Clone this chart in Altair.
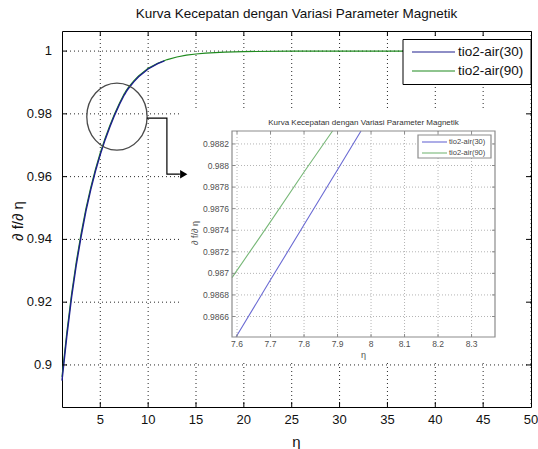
import altair as alt
import pandas as pd

FONT = "Liberation Sans"

# ---------------------------------------------------------------- data
SERIES = ["tio2-air(30)", "tio2-air(90)"]
LINE_COLORS = ["#1e1e8e", "#1f8a1f"]
ZOOM_COLORS = ["#6b6bd3", "#78b878"]

ETA30 = [1, 1.5, 2, 2.5, 3, 3.5, 4, 4.5, 5, 5.5, 6, 6.5, 7, 7.5, 7.6, 7.7, 7.8,
         7.9, 8, 8.5, 9, 10, 11, 11.7]
F30 = [0.8950, 0.9090, 0.9215, 0.9320, 0.9410, 0.9490, 0.9558, 0.9618, 0.9670,
       0.9717, 0.9758, 0.9796, 0.9830, 0.9860, 0.98648, 0.98697, 0.98745,
       0.98792, 0.98830, 0.99020, 0.99180, 0.99430, 0.99600, 0.99690]

ETA90 = [1, 1.5, 2, 2.5, 3, 3.5, 4, 4.5, 5, 5.5, 6, 6.5, 7, 7.5, 7.6, 7.7, 7.8,
         7.9, 8, 8.5, 9, 10, 11, 12, 13, 14, 15, 16, 18, 20, 25, 30, 40, 50]
F90 = [0.8962, 0.9102, 0.9226, 0.9330, 0.9419, 0.9498, 0.9565, 0.9624, 0.9676,
       0.9722, 0.9763, 0.9800, 0.9834, 0.98640, 0.98690, 0.98738, 0.98785,
       0.98830, 0.98868, 0.99050, 0.99205, 0.99450, 0.99614, 0.99730, 0.99812,
       0.99869, 0.99908, 0.99936, 0.99970, 0.99985, 0.99997, 1.0, 1.0, 1.0]

X_DOMAIN = [1, 50]
Y_DOMAIN = [0.8866, 1.0064]
X_TICKS = [5, 10, 15, 20, 25, 30, 35, 40, 45, 50]
Y_TICKS = [0.9, 0.92, 0.94, 0.96, 0.98, 1.0]

# zoomed window around eta ~ 7.6 .. 8.4
ZX_DOMAIN = [7.585, 8.37]
ZY_DOMAIN = [0.98641, 0.98832]
ZX_TICKS = [7.6, 7.7, 7.8, 7.9, 8.0, 8.1, 8.2, 8.3]
ZY_TICKS = [0.9866, 0.9868, 0.987, 0.9872, 0.9874, 0.9876, 0.9878, 0.988, 0.9882]
Z_ETA30 = [7.597, 7.7, 7.8, 7.9, 7.97]
Z_F30 = [0.98641, 0.98694, 0.98745, 0.98796, 0.98832]
Z_ETA90 = [7.585, 7.7, 7.8, 7.885]
Z_F90 = [0.98696, 0.98748, 0.98794, 0.98832]

# ring around the zoomed region and the arrow pointing to the inset
RING_ETA = [6.74]
RING_F = [0.9791]
ARROW_ETA = [9.87, 11.96, 11.96, 13.32]
ARROW_F = [0.97863, 0.97863, 0.96077, 0.96077]
HEAD_ETA = [13.72]
HEAD_F = [0.96077]

TITLE = "Kurva Kecepatan dengan Variasi Parameter Magnetik"
X_TITLE = "η"
Y_TITLE = "∂ f/∂ η"

# ---------------------------------------------------------------- layout
W, H = 469, 376
PAD = {"left": 62, "top": 31, "right": 7, "bottom": 42}
ZX_RANGE = [170, 433]
ZY_RANGE = [306, 100]

one = pd.DataFrame({"k": [0]})

xs = alt.Scale(domain=X_DOMAIN, nice=False, zero=False)
ys = alt.Scale(domain=Y_DOMAIN, nice=False, zero=False)


def X(field):
    return alt.X(field, scale=xs, axis=None)


def Y(field):
    return alt.Y(field, scale=ys, axis=None)


xt = pd.DataFrame({"t": X_TICKS})
yt = pd.DataFrame({"t": Y_TICKS})

# dotted grid of the main axes
grid_v = alt.Chart(xt).mark_rule(color="black", strokeDash=[1, 3], opacity=0.85).encode(
    x=X("t:Q"), y=alt.value(0), y2=alt.value(H))
grid_h = alt.Chart(yt).mark_rule(color="black", strokeDash=[1, 3], opacity=0.85).encode(
    y=Y("t:Q"), x=alt.value(0), x2=alt.value(W))

# white panel that carries the inset
inset_bg = alt.Chart(one).mark_rect(fill="white").encode(
    x=alt.value(120), x2=alt.value(467), y=alt.value(77), y2=alt.value(331)
)

line90 = alt.Chart(pd.DataFrame({"eta": ETA90, "f": F90})).mark_line(
    color=LINE_COLORS[1], strokeWidth=1.2
).encode(x=X("eta:Q"), y=Y("f:Q"))
line30 = alt.Chart(pd.DataFrame({"eta": ETA30, "f": F30})).mark_line(
    color=LINE_COLORS[0], strokeWidth=1.4
).encode(x=X("eta:Q"), y=Y("f:Q"))

# inward ticks on all four sides
tick_len = 5
xt_in = pd.DataFrame({"t": X_TICKS[:-1]})
ticks = [
    alt.Chart(xt_in).mark_rule(color="black").encode(
        x=X("t:Q"), y=alt.value(H - tick_len), y2=alt.value(H)),
    alt.Chart(xt_in).mark_rule(color="black").encode(
        x=X("t:Q"), y=alt.value(0), y2=alt.value(tick_len)),
    alt.Chart(yt).mark_rule(color="black").encode(
        y=Y("t:Q"), x=alt.value(0), x2=alt.value(tick_len)),
    alt.Chart(yt).mark_rule(color="black").encode(
        y=Y("t:Q"), x=alt.value(W - tick_len), x2=alt.value(W)),
]

# tick labels and axis titles
x_labels = alt.Chart(xt).mark_text(font=FONT, fontSize=13, color="#111", baseline="middle").encode(
    x=X("t:Q"), y=alt.value(H + 13), text=alt.Text("t:Q", format="~g"))
y_labels = alt.Chart(yt).mark_text(font=FONT, fontSize=13, color="#111", align="right",
                                   baseline="middle").encode(
    y=Y("t:Q"), x=alt.value(-10), text=alt.Text("t:Q", format="~g"))
x_title = alt.Chart(one).mark_text(text=X_TITLE, font=FONT, fontSize=15, color="#111",
                                   baseline="middle").encode(x=alt.value(234.5), y=alt.value(411))
y_title = alt.Chart(one).mark_text(text=Y_TITLE, font=FONT, fontSize=15, color="#111",
                                   baseline="middle", angle=270).encode(
    x=alt.value(-44), y=alt.value(190))

# ring + arrow
ring = alt.Chart(pd.DataFrame({"eta": RING_ETA, "f": RING_F})).mark_point(
    shape="M -0.9 0 A 0.9 1 0 1 1 0.9 0 A 0.9 1 0 1 1 -0.9 0 Z",
    size=4489, filled=False, stroke="#4a4a4a", strokeWidth=1.3, opacity=1,
).encode(x=X("eta:Q"), y=Y("f:Q"))

arrow = alt.Chart(pd.DataFrame({"eta": ARROW_ETA, "f": ARROW_F,
                                "k": list(range(len(ARROW_ETA)))})).mark_line(
    color="black", strokeWidth=1.2
).encode(x=X("eta:Q"), y=Y("f:Q"), order=alt.Order("k:Q"))
head = alt.Chart(pd.DataFrame({"eta": HEAD_ETA, "f": HEAD_F})).mark_point(
    shape="triangle-right", size=70, filled=True, color="black", opacity=1
).encode(x=X("eta:Q"), y=Y("f:Q"))

# legend of the main axes
main_legend = [
    alt.Chart(one).mark_rect(fill="white", stroke="black", strokeWidth=1).encode(
        x=alt.value(341), x2=alt.value(469), y=alt.value(8.5), y2=alt.value(53.5))
]
for i, (name, col) in enumerate(zip(SERIES, LINE_COLORS)):
    ry = 21 + 19 * i
    main_legend.append(alt.Chart(one).mark_rule(color=col, strokeWidth=1.2).encode(
        x=alt.value(350), x2=alt.value(393), y=alt.value(ry)))
    main_legend.append(alt.Chart(one).mark_text(
        text=name, font=FONT, fontSize=13.5, color="#111", align="left",
        baseline="middle").encode(x=alt.value(396), y=alt.value(ry)))

main = alt.layer(grid_v, grid_h, inset_bg, line90, line30, *ticks, x_labels,
                 y_labels, x_title, y_title, ring, arrow, head, *main_legend)

# ---------------------------------------------------------------- inset
zxs = alt.Scale(domain=ZX_DOMAIN, range=ZX_RANGE, nice=False, zero=False)
zys = alt.Scale(domain=ZY_DOMAIN, range=ZY_RANGE, nice=False, zero=False)


def ZX(field):
    return alt.X(field, scale=zxs, axis=None)


def ZY(field):
    return alt.Y(field, scale=zys, axis=None)


zxt = pd.DataFrame({"t": ZX_TICKS})
zyt = pd.DataFrame({"t": ZY_TICKS})
GRID_GRAY = "#b4b4b4"
FRAME_GRAY = "#8c8c8c"
TXT_GRAY = "#505050"

z_grid_v = alt.Chart(zxt).mark_rule(color=GRID_GRAY, strokeDash=[1, 2]).encode(
    x=ZX("t:Q"), y=alt.value(ZY_RANGE[1]), y2=alt.value(ZY_RANGE[0]))
z_grid_h = alt.Chart(zyt).mark_rule(color=GRID_GRAY, strokeDash=[1, 2]).encode(
    y=ZY("t:Q"), x=alt.value(ZX_RANGE[0]), x2=alt.value(ZX_RANGE[1]))

zt = 3
z_ticks = [
    alt.Chart(zxt).mark_rule(color=FRAME_GRAY).encode(
        x=ZX("t:Q"), y=alt.value(ZY_RANGE[0] - zt), y2=alt.value(ZY_RANGE[0])),
    alt.Chart(zxt).mark_rule(color=FRAME_GRAY).encode(
        x=ZX("t:Q"), y=alt.value(ZY_RANGE[1]), y2=alt.value(ZY_RANGE[1] + zt)),
    alt.Chart(zyt).mark_rule(color=FRAME_GRAY).encode(
        y=ZY("t:Q"), x=alt.value(ZX_RANGE[0]), x2=alt.value(ZX_RANGE[0] + zt)),
    alt.Chart(zyt).mark_rule(color=FRAME_GRAY).encode(
        y=ZY("t:Q"), x=alt.value(ZX_RANGE[1] - zt), x2=alt.value(ZX_RANGE[1])),
]

z_frame = alt.Chart(one).mark_rect(fillOpacity=0, stroke=FRAME_GRAY, strokeWidth=1.2).encode(
    x=alt.value(ZX_RANGE[0]), x2=alt.value(ZX_RANGE[1]),
    y=alt.value(ZY_RANGE[1]), y2=alt.value(ZY_RANGE[0]))

z30 = alt.Chart(pd.DataFrame({"eta_z": Z_ETA30, "f_z": Z_F30})).mark_line(
    color=ZOOM_COLORS[0], strokeWidth=1.1
).encode(x=ZX("eta_z:Q"), y=ZY("f_z:Q"))
z90 = alt.Chart(pd.DataFrame({"eta_z": Z_ETA90, "f_z": Z_F90})).mark_line(
    color=ZOOM_COLORS[1], strokeWidth=1.1
).encode(x=ZX("eta_z:Q"), y=ZY("f_z:Q"))

z_xlabels = alt.Chart(zxt).mark_text(font=FONT, fontSize=8.5, color=TXT_GRAY, baseline="middle").encode(
    x=ZX("t:Q"), y=alt.value(ZY_RANGE[0] + 7), text=alt.Text("t:Q", format="~g"))
z_ylabels = alt.Chart(zyt).mark_text(font=FONT, fontSize=8.5, color=TXT_GRAY, align="right",
                                     baseline="middle").encode(
    y=ZY("t:Q"), x=alt.value(ZX_RANGE[0] - 3), text=alt.Text("t:Q", format="~g"))

zc = (ZX_RANGE[0] + ZX_RANGE[1]) / 2
z_title = alt.Chart(one).mark_text(text=TITLE, font=FONT, fontSize=8, color="#333",
                                   baseline="middle").encode(x=alt.value(zc), y=alt.value(92))
z_xtitle = alt.Chart(one).mark_text(text=X_TITLE, font=FONT, fontSize=9, color=TXT_GRAY,
                                    baseline="middle").encode(x=alt.value(zc), y=alt.value(324))
z_ytitle = alt.Chart(one).mark_text(text=Y_TITLE, font=FONT, fontSize=9, color=TXT_GRAY,
                                    baseline="middle", angle=270).encode(
    x=alt.value(133), y=alt.value(202))

z_legend = [
    alt.Chart(one).mark_rect(fill="white", stroke=FRAME_GRAY, strokeWidth=1.2).encode(
        x=alt.value(356), x2=alt.value(429), y=alt.value(104), y2=alt.value(127))
]
for i, (name, col) in enumerate(zip(SERIES, ZOOM_COLORS)):
    ry = 111 + 11 * i
    z_legend.append(alt.Chart(one).mark_rule(color=col, strokeWidth=1.1).encode(
        x=alt.value(360), x2=alt.value(385), y=alt.value(ry)))
    z_legend.append(alt.Chart(one).mark_text(
        text=name, font=FONT, fontSize=7.5, color="#444", align="left",
        baseline="middle").encode(x=alt.value(387), y=alt.value(ry)))

inset = alt.layer(z_grid_v, z_grid_h, z30, z90, z_frame, *z_ticks, z_xlabels,
                  z_ylabels, z_title, z_xtitle, z_ytitle, *z_legend)

chart = alt.layer(main, inset).resolve_scale(
    x="independent", y="independent"
).properties(
    width=W, height=H, padding=PAD,
    autosize=alt.AutoSizeParams(type="none"),
    background="white",
    title=alt.TitleParams(TITLE, font=FONT, fontSize=13.5, fontWeight="normal",
                          color="#111", anchor="middle", offset=10),
).configure_view(stroke="black", strokeWidth=1)

chart.save("out.html", embed_options={"renderer": "svg", "actions": False})
